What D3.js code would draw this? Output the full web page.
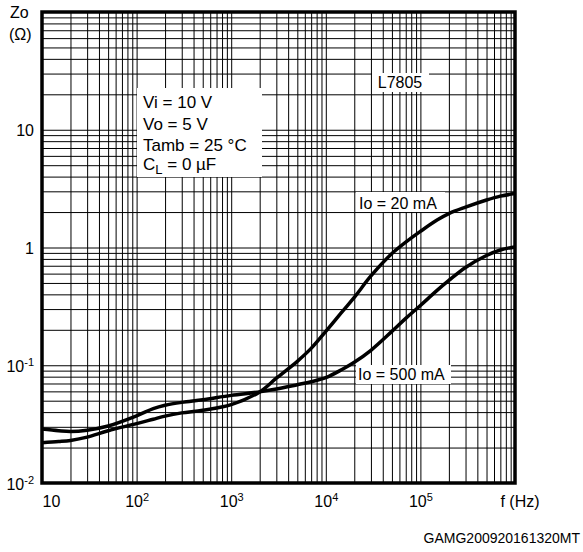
<!DOCTYPE html>
<html>
<head>
<meta charset="utf-8">
<script src="https://cdn.jsdelivr.net/npm/d3@7"></script>
<style>
body { margin: 0; background: #fff; }
svg { font-family: "Liberation Sans", Arial, sans-serif; }
</style>
</head>
<body>
<script>
// frequency points (Hz) and output impedance (ohm)
var freq = [10, 15, 20, 30, 50, 100, 150, 200, 300, 500, 1000, 2000, 3000, 5000, 7000,
            1e4, 1.5e4, 2e4, 3e4, 5e4, 7e4, 1e5, 1.5e5, 2e5, 3e5, 5e5, 7e5, 1e6];
var zo500 = [0.0287, 0.0278, 0.0274, 0.0281, 0.0305, 0.0372, 0.0428, 0.0457, 0.0484, 0.0510,
             0.0555, 0.0594, 0.0628, 0.0684, 0.0725, 0.0784, 0.0925, 0.106, 0.134, 0.194,
             0.250, 0.322, 0.432, 0.525, 0.677, 0.855, 0.953, 1.01];
var zo20 = [0.0220, 0.0225, 0.0230, 0.0245, 0.0278, 0.0319, 0.0348, 0.0370, 0.0394, 0.0415,
            0.0463, 0.0594, 0.0776, 0.108, 0.139, 0.194, 0.287, 0.377, 0.573, 0.889,
            1.11, 1.37, 1.71, 1.94, 2.20, 2.53, 2.73, 2.87];
var xTicks = [10, 100, 1000, 1e4, 1e5];
var xExp = ["", "2", "3", "4", "5"];
var yTicks = [0.01, 0.1, 1, 10];
var yBase = ["10", "10", "1", "10"];
var yExp = ["-2", "-1", "", ""];
var notes = ["Vi = 10 V", "Vo = 5 V", "Tamb = 25 °C"];

var width = 583, height = 552;
var x = d3.scaleLog().domain([10, 1e6]).range([42, 515]);
var y = d3.scaleLog().domain([0.01, 100]).range([483, 12]);

var svg = d3.select("body").append("svg")
    .attr("width", width)
    .attr("height", height);

// grid values 1..9 per decade
var xGrid = [], yGrid = [];
for (var e = 1; e <= 5; e++) for (var m = 1; m <= 9; m++) xGrid.push(m * Math.pow(10, e));
for (var e = -2; e <= 1; e++) for (var m = 1; m <= 9; m++) yGrid.push(+(m * Math.pow(10, e)).toPrecision(3));

svg.append("g")
    .attr("transform", "translate(0,483)")
    .call(d3.axisBottom(x).tickValues(xGrid).tickSize(-471).tickFormat(""))
    .call(function(g) { g.select(".domain").remove(); })
    .selectAll("line").attr("stroke", "#000").attr("stroke-width", 1);

svg.append("g")
    .attr("transform", "translate(42,0)")
    .call(d3.axisLeft(y).tickValues(yGrid).tickSize(-473).tickFormat(""))
    .call(function(g) { g.select(".domain").remove(); })
    .selectAll("line").attr("stroke", "#000").attr("stroke-width", 1);

// white label boxes over the grid
function box(x0, y0, w, h) {
  svg.append("rect").attr("x", x0).attr("y", y0).attr("width", w).attr("height", h).attr("fill", "#fff");
}
box(137, 88, 125, 89);
box(372, 73, 57, 19);
box(356, 192, 89, 20);
box(356, 365, 95, 19);

// curves
var line = d3.line()
    .x(function(d) { return x(d[0]); })
    .y(function(d) { return y(d[1]); })
    .curve(d3.curveCatmullRom.alpha(0.5));

[zo20, zo500].forEach(function(s) {
  svg.append("path")
      .datum(freq.map(function(f, i) { return [f, s[i]]; }))
      .attr("fill", "none")
      .attr("stroke", "#000")
      .attr("stroke-width", 3.5)
      .attr("d", line);
});

// frame
svg.append("rect")
    .attr("x", 42).attr("y", 12)
    .attr("width", 473).attr("height", 471)
    .attr("fill", "none").attr("stroke", "#000").attr("stroke-width", 3.5);

// x tick labels
var xa = svg.append("g")
    .attr("transform", "translate(0,483)")
    .call(d3.axisBottom(x).tickValues(xTicks).tickSize(0).tickFormat(""));
xa.select(".domain").remove();
xa.selectAll(".tick text").remove();
xa.selectAll(".tick").each(function(d, i) {
  var t = d3.select(this).append("text")
      .attr("y", 24).attr("fill", "#000")
      .attr("font-size", 16)
      .attr("text-anchor", i === 0 ? "start" : "middle");
  t.append("tspan").text("10");
  if (xExp[i]) t.append("tspan").attr("font-size", 11).attr("dy", -6).text(xExp[i]);
});
svg.append("text").attr("x", 520).attr("y", 507).attr("text-anchor", "middle")
    .attr("font-size", 16).text("f (Hz)");

// y tick labels
var ya = svg.append("g")
    .attr("transform", "translate(42,0)")
    .call(d3.axisLeft(y).tickValues(yTicks).tickSize(0).tickFormat(""));
ya.select(".domain").remove();
ya.selectAll(".tick text").remove();
ya.selectAll(".tick").each(function(d, i) {
  var t = d3.select(this).append("text")
      .attr("x", -8).attr("y", 6).attr("fill", "#000")
      .attr("font-size", 16).attr("text-anchor", "end");
  t.append("tspan").text(yBase[i]);
  if (yExp[i]) t.append("tspan").attr("font-size", 11).attr("dy", -6).text(yExp[i]);
});
svg.append("text").attr("x", 10).attr("y", 18).attr("font-size", 16).text("Zo");
svg.append("text").attr("x", 9).attr("y", 40).attr("font-size", 16).text("(Ω)");

// annotations
notes.forEach(function(n, i) {
  svg.append("text").attr("x", 143).attr("y", 108 + i * 21.7)
      .attr("font-size", 17).text(n);
});
var cl = svg.append("text").attr("x", 143).attr("y", 169.5).attr("font-size", 17);
cl.append("tspan").text("C");
cl.append("tspan").attr("font-size", 13).attr("dy", 4).text("L");
cl.append("tspan").attr("dy", -4).text(" = 0 µF");

svg.append("text").attr("x", 400).attr("y", 87.5).attr("text-anchor", "middle")
    .attr("font-size", 16).text("L7805");
svg.append("text").attr("x", 359).attr("y", 209).attr("font-size", 16).text("Io = 20 mA");
svg.append("text").attr("x", 358).attr("y", 380).attr("font-size", 16).text("Io = 500 mA");

svg.append("text").attr("x", 580).attr("y", 543).attr("text-anchor", "end")
    .attr("font-size", 14).text("GAMG200920161320MT");
</script>
</body>
</html>
